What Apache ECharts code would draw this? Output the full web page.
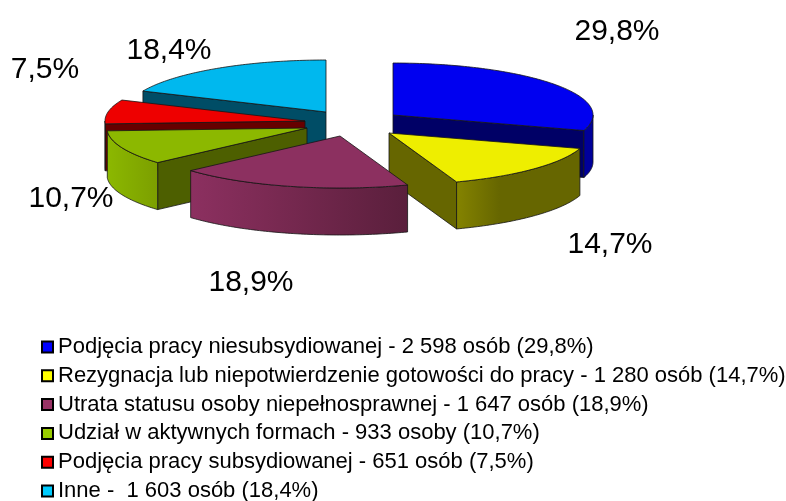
<!DOCTYPE html>
<html><head><meta charset="utf-8">
<style>html,body{margin:0;padding:0;background:#fff}#c{width:786px;height:501px}</style>
<script src="https://cdn.jsdelivr.net/npm/echarts@6/dist/echarts.min.js"></script>
</head><body><div id="c"></div>
<script>
const categories = ['Podjęcia pracy niesubsydiowanej - 2 598 osób (29,8%)',
 'Rezygnacja lub niepotwierdzenie gotowości do pracy - 1 280 osób (14,7%)',
 'Utrata statusu osoby niepełnosprawnej - 1 647 osób (18,9%)',
 'Udział w aktywnych formach - 933 osoby (10,7%)',
 'Podjęcia pracy subsydiowanej - 651 osób (7,5%)',
 'Inne -  1 603 osób (18,4%)'];
const values = [2598, 1280, 1647, 933, 651, 1603];
const pctLabels = ['29,8%', '14,7%', '18,9%', '10,7%', '7,5%', '18,4%'];

// styling and layout (kept apart from the data)
const legendColors = ['#0000ff', '#ffff00', '#993366', '#99cc00', '#ff0000', '#00ccff'];
const topColors = ['#0000f0', '#eeee00', '#8c3060', '#8cb800', '#ee0000', '#00b8ee'];
const wallColors = ['#000066', '#666600', '#5c2040', '#4d5f00', '#660000', '#004d66'];
const rimStops = [['#00009a', '#00009a'], ['#848300', '#666600'], ['#8c3060', '#5a1f3c'], ['#8cb800', '#7c9f00'], ['#8a0000', '#8a0000'], ['#004d66', '#004d66']];
const apexes = [[393, 115], [389, 133], [340, 136], [307, 128], [305, 121], [326, 112]];
const labelAnchors = [[617, 32], [610, 245], [251, 283], [71, 199], [45, 70], [169, 51]];
const drawOrder = [5, 4, 3, 0, 1, 2];
const RX = 200, RY = 52, DEPTH = 47;

const total = values.reduce((a, b) => a + b, 0);
const startAngles = [];
values.reduce((acc, v, i) => { startAngles[i] = acc; return acc + v / total * 2 * Math.PI; }, 0);

function pt(apex, a, dy) {
  return [apex[0] + RX * Math.sin(a), apex[1] - RY * Math.cos(a) + (dy || 0)];
}
function arc(apex, a0, a1, dy) {
  const n = Math.max(2, Math.ceil(Math.abs(a1 - a0) * 60)), out = [];
  for (let k = 0; k <= n; k++) out.push(pt(apex, a0 + (a1 - a0) * k / n, dy));
  return out;
}
const EDGE = { stroke: '#151515', lineWidth: 0.8, lineJoin: 'round' };

function renderSlice(idx) {
  return function (params, api) {
    const sweep = api.value(0) / total * 2 * Math.PI;
    const a0 = startAngles[idx], a1 = a0 + sweep, apex = apexes[idx];
    const children = [];
    const poly = (points, fill) => children.push({ type: 'polygon', shape: { points }, style: Object.assign({ fill }, EDGE) });
    const wall = a => poly([apex, pt(apex, a), pt(apex, a, DEPTH), [apex[0], apex[1] + DEPTH]], wallColors[idx]);
    // radial walls that face the viewer
    if (a0 > Math.PI && a0 < 2 * Math.PI) wall(a0);
    if (a1 > 0 && a1 < Math.PI) wall(a1);
    // outer rim, front half only
    const r0 = Math.max(a0, Math.PI / 2), r1 = Math.min(a1, 3 * Math.PI / 2);
    if (r1 > r0) {
      const top = arc(apex, r0, r1, 0), bottom = arc(apex, r1, r0, DEPTH);
      const xs = top.map(p => p[0]), x0 = Math.min(...xs), x1 = Math.max(...xs);
      const rising = pt(apex, r0)[0] < pt(apex, r1)[0];
      const st = rimStops[idx];
      const c0 = rising ? st[1] : st[0], c1 = rising ? st[0] : st[1];
      poly(top.concat(bottom), new echarts.graphic.LinearGradient(x0, 0, x1, 0, [
        { offset: 0, color: c0 },
        { offset: 0.35, color: idx === 1 ? c1 : echarts.color.lerp(0.35, [c0, c1]) },
        { offset: 1, color: c1 }
      ], true));
    }
    // top face
    poly([apex].concat(arc(apex, a0, a1, 0)), topColors[idx]);
    children.push({
      type: 'text',
      style: { text: pctLabels[idx], x: labelAnchors[idx][0], y: labelAnchors[idx][1], fill: '#000',
        font: '30px "Liberation Sans", Arial, sans-serif', textAlign: 'center', textVerticalAlign: 'middle' }
    });
    return { type: 'group', children };
  };
}

const chart = echarts.init(document.getElementById('c'), null, { renderer: 'canvas' });
chart.setOption({
  animation: false,
  backgroundColor: '#fff',
  legend: {
    orient: 'vertical', left: 41, top: 335, height: 200, padding: 0,
    data: categories, icon: 'rect', itemWidth: 11, itemHeight: 11, itemGap: 4.8,
    selectedMode: false,
    itemStyle: { borderColor: '#000', borderWidth: 2 },
    textStyle: { color: '#000', fontSize: 22, fontFamily: '"Liberation Sans", Arial, sans-serif', lineHeight: 24, padding: [0, 0, 0, 0] }
  },
  series: drawOrder.map(i => ({
    type: 'custom', name: categories[i], coordinateSystem: 'none', silent: true,
    itemStyle: { color: legendColors[i] },
    renderItem: renderSlice(i),
    data: [[values[i]]]
  }))
});
</script></body></html>
